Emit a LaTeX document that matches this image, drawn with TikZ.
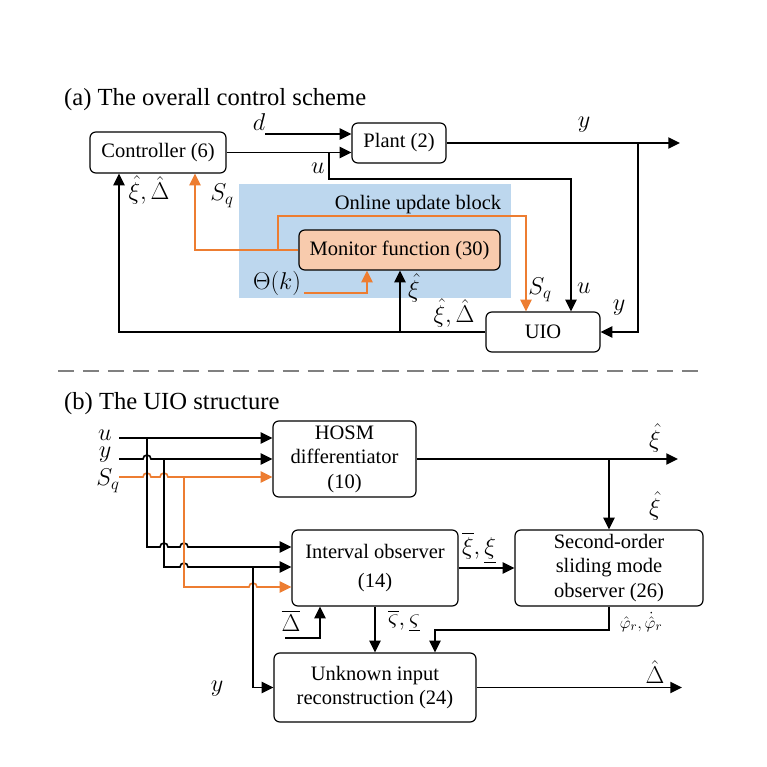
\documentclass[tikz,border=0pt]{standalone}
\usepackage{amsmath,amssymb}
\usepackage{fontspec}
\setmainfont{Liberation Serif}
\usepackage{tikz}
\usetikzlibrary{arrows.meta,calc}

\definecolor{sqorange}{HTML}{ED7D31}
\definecolor{onlineblue}{HTML}{BDD7EE}
\definecolor{monitorfill}{HTML}{F8CBAD}
\newcommand\bodysize{\fontsize{17.5}{21}\selectfont}
\newcommand\mathsize{\fontsize{20}{24}\selectfont}
\newcommand\titlesize{\fontsize{21}{25}\selectfont}

\tikzset{
  blk/.style={draw,rounded corners=5pt,line width=1pt,align=center,font=\bodysize},
  sig/.style={line width=1.4pt},
  lbl/.style={font=\mathsize,inner sep=1pt},
}

\begin{document}
\begin{tikzpicture}[x=0.03cm,y=-0.03cm,>={Triangle[length=10pt,width=9.5pt]}]
\useasboundingbox (0,0) rectangle (767,766);

% (a) overall scheme
\node[font=\titlesize,anchor=west,inner sep=0pt] (tita) at (64,100) {(a) The overall control scheme};
\fill[onlineblue] (239,184) rectangle (511,298);
\node[blk,minimum width=4.08cm,minimum height=1.23cm] (ctrl) at (158,152.5) {Controller (6)};
\node[blk,minimum width=2.82cm,minimum height=1.2cm] (plant) at (399,143) {Plant (2)};
\node[blk,minimum width=3.42cm,minimum height=1.2cm] (uio) at (543,332) {UIO};
\node[blk,fill=monitorfill,minimum width=6.03cm,minimum height=1.2cm] (monitor) at (399.5,250) {Monitor function (30)};
\node[font=\bodysize] (online) at (418,205) {Online update block};

\coordinate (dstart) at (265,134);
\coordinate (ubr) at (329,152.5);
\coordinate (ucorner) at (571,179);
\coordinate (yend) at (680,143);
\coordinate (ybr) at (638,143);
\coordinate (fbleft) at (119,332);
\coordinate (xibr) at (400,332);
\coordinate (sqleft) at (195,250);
\coordinate (sqbr) at (278,250);
\coordinate (sqtop) at (526,216);
\coordinate (thstart) at (304,293);
\coordinate (thcorner) at (367,293);

\draw[sig,->] (dstart) -- (dstart -| plant.west);
\draw[sig,->] (ctrl.east) -- (ctrl.east -| plant.west);
\draw[sig,->] (ubr) |- (ucorner) -- (ucorner |- uio.north);
\draw[sig,->] (plant.east) -- (yend);
\draw[sig,->] (ybr) |- (uio.east);
\draw[sig,->] (uio.west) -- (fbleft) -- (fbleft |- ctrl.south);
\draw[sig,->] (xibr) -- (xibr |- monitor.south);
\draw[sig,sqorange,->] (monitor.west) -- (sqleft) -- (sqleft |- ctrl.south);
\draw[sig,sqorange,->] (sqbr) |- (sqtop) -- (sqtop |- uio.north);
\draw[sig,sqorange,->] (thstart) -- (thcorner) -- (thcorner |- monitor.south);

\node[lbl] at (259,122) {$d$};
\node[lbl] at (318,168) {$u$};
\node[lbl] at (584,125) {$y$};
\node[lbl] at (149,190) {$\hat{\xi},\hat{\Delta}$};
\node[lbl] at (222,196) {$S_q$};
\node[lbl] at (277,283) {$\Theta(k)$};
\node[lbl] at (414,288) {$\hat{\xi}$};
\node[lbl] at (540,290) {$S_q$};
\node[lbl] at (584,288) {$u$};
\node[lbl] at (619,308) {$y$};
\node[lbl] at (454,313) {$\hat{\xi},\hat{\Delta}$};

\draw[gray,line width=1.6pt,dash pattern=on 14pt off 7.3pt] (58,371) -- (702,371);

% (b) UIO structure
\node[font=\titlesize,anchor=west,inner sep=0pt] (titb) at (64,404) {(b) The UIO structure};
\node[blk,minimum width=4.29cm,minimum height=2.28cm] (hosm) at (344.5,459) {HOSM\\differentiator\\(10)};
\node[blk,minimum width=4.98cm,minimum height=2.28cm] (intobs) at (375,568) {Interval observer\\[4pt](14)};
\node[blk,minimum width=5.64cm,minimum height=2.28cm] (smo) at (609,568) {Second-order\\sliding mode\\observer (26)};
\node[blk,minimum width=6.06cm,minimum height=2.07cm] (uir) at (375,687.5) {Unknown input\\reconstruction (24)};

\coordinate (uin) at (119,438);
\coordinate (yin) at (119,459);
\coordinate (sin) at (119,477);
\coordinate (rowu) at (0,547);
\coordinate (rowy) at (0,567);
\coordinate (rows) at (0,587);
\coordinate (ybr2) at (253,567);
\coordinate (xiend) at (678,459);
\coordinate (xibr2) at (609,459);
\coordinate (phicorner) at (435,630);
\coordinate (dbstart) at (285,638);
\coordinate (dbcorner) at (320,638);
\coordinate (deltaend) at (682,687.5);

\draw[sig,->] (uin) -- (uin -| hosm.west);
\draw[sig,->] (yin) -- (143,459) arc[start angle=180,end angle=0,radius=3.4pt] -- (yin -| hosm.west);
\draw[sig,sqorange,->] (sin) -- (143,477) arc[start angle=180,end angle=0,radius=3.4pt]
  -- (160,477) arc[start angle=180,end angle=0,radius=3.4pt] -- (sin -| hosm.west);
\draw[sig,->] (147,438) -- (147,547) -- (160,547) arc[start angle=180,end angle=0,radius=3.4pt]
  -- (180,547) arc[start angle=180,end angle=0,radius=3.4pt] -- (rowu -| intobs.west);
\draw[sig,->] (164,459) -- (164,567) -- (180,567) arc[start angle=180,end angle=0,radius=3.4pt]
  -- (rowy -| intobs.west);
\draw[sig,sqorange,->] (184,477) -- (184,587) -- (249,587) arc[start angle=180,end angle=0,radius=3.4pt]
  -- (rows -| intobs.west);
\draw[sig,->] (ybr2) |- (uir.west);

\draw[sig,->] (hosm.east) -- (xiend);
\draw[sig,->] (xibr2) -- (smo.north);
\draw[sig,->] (intobs.east) -- (smo.west);
\draw[sig,->] (intobs.south) -- (uir.north);
\draw[sig,->] (smo.south) |- (phicorner) -- (phicorner |- uir.north);
\draw[sig,->] (dbstart) -- (dbcorner) -- (dbcorner |- intobs.south);
\draw[sig,->] (uir.east) -- (deltaend);

\node[lbl] at (105,435) {$u$};
\node[lbl] at (105,455) {$y$};
\node[lbl] at (108,481) {$S_q$};
\node[lbl] at (655,438) {$\hat{\xi}$};
\node[lbl] at (655,506) {$\hat{\xi}$};
\node[lbl] at (479,548) {$\overline{\xi},\underline{\xi}$};
\node[lbl] at (291,621) {$\overline{\Delta}$};
\node[lbl] at (404,621) {$\overline{\varsigma},\underline{\varsigma}$};
\node[lbl,font=\fontsize{15}{18}\selectfont] at (641,622) {$\hat{\varphi}_r,\dot{\hat{\varphi}}_r$};
\node[lbl] at (217,689) {$y$};
\node[lbl] at (655,672) {$\hat{\Delta}$};
\end{tikzpicture}
\end{document}
